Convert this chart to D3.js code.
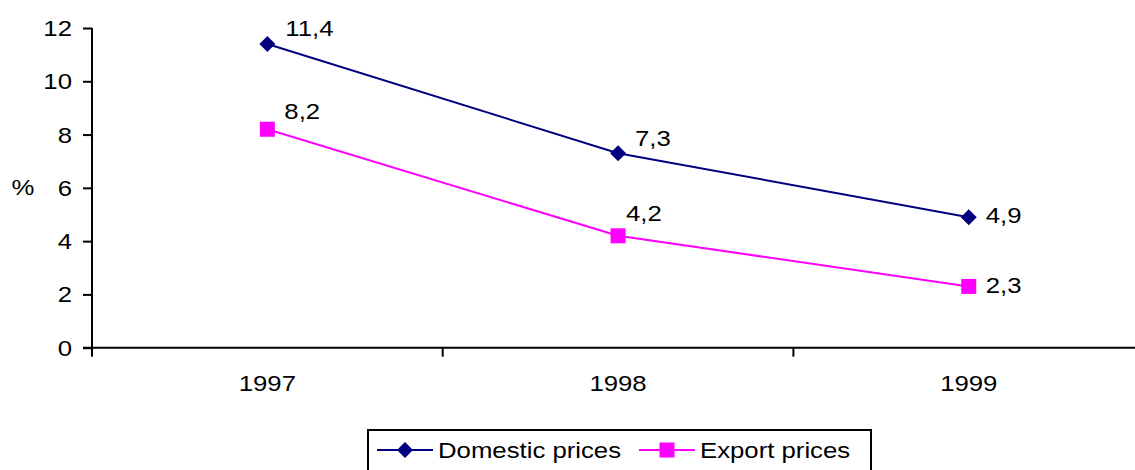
<!DOCTYPE html>
<html>
<head>
<meta charset="utf-8">
<script src="https://cdn.jsdelivr.net/npm/d3@7/dist/d3.min.js"></script>
<style>
  html, body { margin: 0; padding: 0; background: #fff; }
  svg { display: block; font-family: "Liberation Sans", Arial, sans-serif; }
</style>
</head>
<body>
<svg id="chart" width="1135" height="470"></svg>
<script>
// Annual growth of prices, %
const years = ["1997", "1998", "1999"];
const domestic = [11.4, 7.3, 4.9];
const exportPrices = [8.2, 4.2, 2.3];
const yTicks = [0, 2, 4, 6, 8, 10, 12];
const seriesNames = ["Domestic prices", "Export prices"];

const W = 1135, H = 470;
const plotLeft = 92, plotTop = 28, plotBottom = 347.7;
const bandW = 350.7;
const fontSize = 22;
const stretch = 1.17; // the typeface is drawn slightly wide

const svg = d3.select("#chart");

// text helper: anchor point at (x, y), glyphs widened horizontally
function label(parent, x0, y0, str, anchor) {
  return parent.append("text")
    .attr("transform", `translate(${x0},${y0}) scale(${stretch},1)`)
    .attr("text-anchor", anchor || "start")
    .attr("font-size", fontSize).attr("fill", "#000").text(str);
}

const x = d3.scaleBand().domain(years).range([plotLeft, plotLeft + bandW * years.length]).padding(0);
const y = d3.scaleLinear().domain([0, 12]).range([plotBottom, plotTop]);
const cx = d => x(d) + x.bandwidth() / 2;

// Y axis
const yAxis = d3.axisLeft(y).tickValues(yTicks).tickSize(9).tickFormat("");
const gy = svg.append("g").attr("transform", `translate(${plotLeft},0)`).call(yAxis);
gy.select(".domain").attr("stroke", "#000").attr("stroke-width", 2).attr("d", `M0,${plotTop}V${plotBottom + 8}`);
gy.selectAll(".tick line").attr("stroke", "#000").attr("stroke-width", 2);
yTicks.forEach(t => label(svg, 72, y(t) + 8, d3.format("d")(t), "end"));

// X axis
const gx = svg.append("g").attr("transform", `translate(0,${plotBottom})`);
gx.append("line").attr("x1", plotLeft - 9).attr("x2", W).attr("y1", 0).attr("y2", 0)
  .attr("stroke", "#000").attr("stroke-width", 2);
const boundaries = years.map(d => x(d)).concat([x(years[years.length - 1]) + x.bandwidth()]);
gx.selectAll("line.tk").data(boundaries).join("line").attr("class", "tk")
  .attr("x1", d => d).attr("x2", d => d).attr("y1", 0).attr("y2", 9)
  .attr("stroke", "#000").attr("stroke-width", 2);
years.forEach(d => label(svg, cx(d), plotBottom + 43, d, "middle"));

// Y axis unit
label(svg, 23, 195, "%", "middle");

const line = d3.line().x((d, i) => cx(years[i])).y(d => y(d));

const series = [
  { name: seriesNames[0], values: domestic, color: "#000080", marker: "diamond",
    labelDx: [18, 17, 17], labelDy: [-8, -7, 6] },
  { name: seriesNames[1], values: exportPrices, color: "#FF00FF", marker: "square",
    labelDx: [17, 8, 17], labelDy: [-10, -15, 7] }
];

function drawMarker(g, type, color) {
  if (type === "diamond") {
    g.append("path").attr("d", "M0,-8L8,0L0,8L-8,0Z").attr("fill", color);
  } else {
    g.append("rect").attr("x", -7.5).attr("y", -7.5).attr("width", 15).attr("height", 15).attr("fill", color);
  }
}

const fmt = v => d3.format(".1f")(v).replace(".", ",");

series.forEach(s => {
  svg.append("path").datum(s.values).attr("d", line)
    .attr("fill", "none").attr("stroke", s.color).attr("stroke-width", 2);
  s.values.forEach((v, i) => {
    const g = svg.append("g").attr("transform", `translate(${cx(years[i])},${y(v)})`);
    drawMarker(g, s.marker, s.color);
    label(svg, cx(years[i]) + s.labelDx[i], y(v) + s.labelDy[i], fmt(v));
  });
});

// Legend
const lg = svg.append("g");
lg.append("rect").attr("x", 368).attr("y", 430).attr("width", 503).attr("height", 45)
  .attr("fill", "#fff").attr("stroke", "#000").attr("stroke-width", 2);
const items = [{ s: series[0], x0: 377 }, { s: series[1], x0: 639 }];
items.forEach(it => {
  const g = lg.append("g").attr("transform", `translate(${it.x0},450)`);
  g.append("line").attr("x1", 0).attr("x2", 56).attr("stroke", it.s.color).attr("stroke-width", 2);
  const m = g.append("g").attr("transform", "translate(28,0)");
  drawMarker(m, it.s.marker, it.s.color);
  label(g, 61, 8, it.s.name);
});
</script>
</body>
</html>
